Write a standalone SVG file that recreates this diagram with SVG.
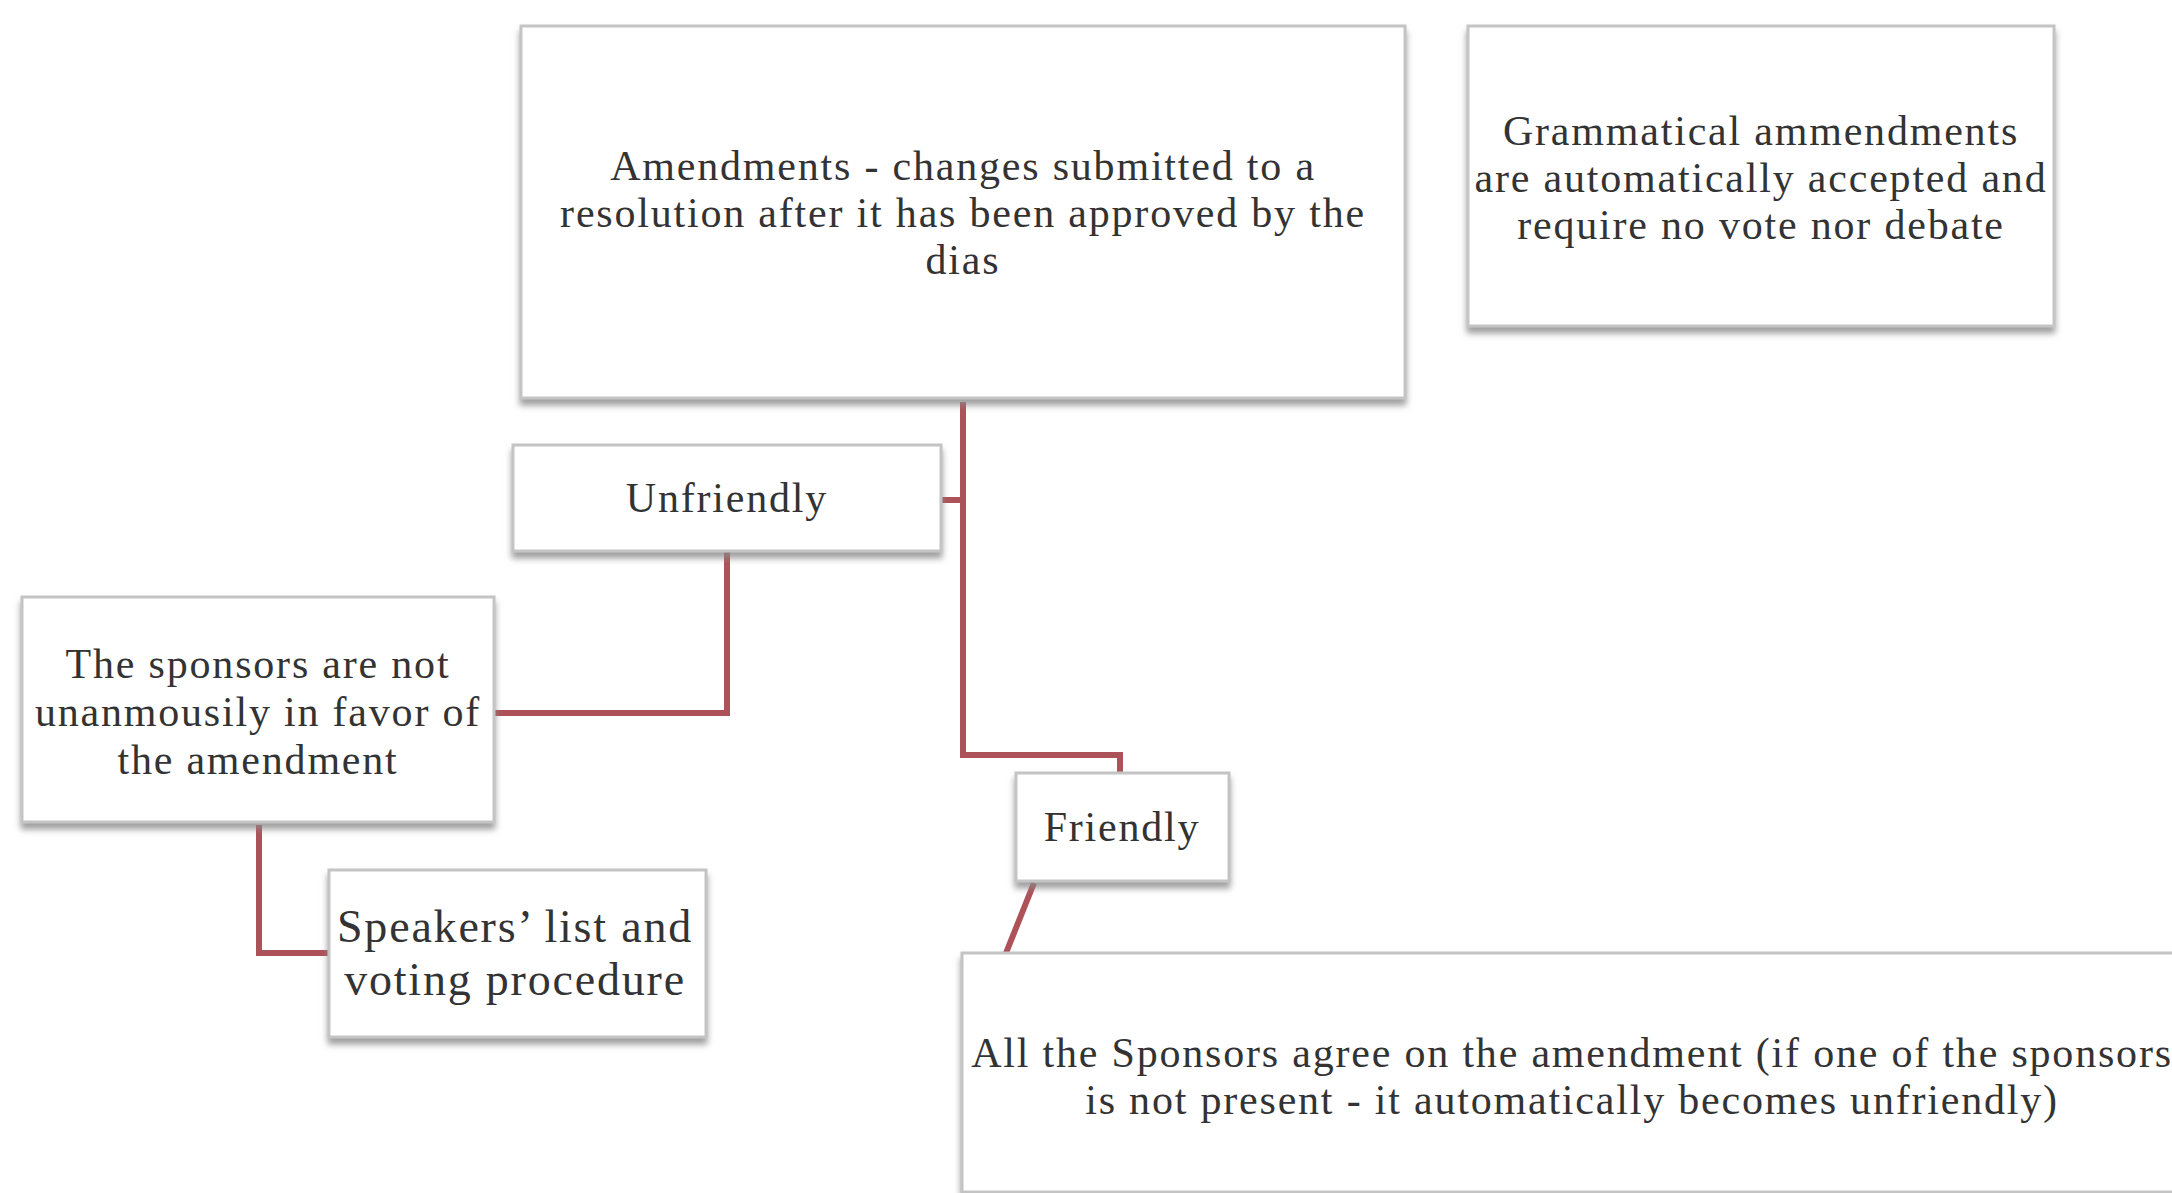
<svg xmlns="http://www.w3.org/2000/svg" width="2172" height="1193" viewBox="0 0 2172 1193">
<style>
.box{fill:#fff;stroke:#c4c4c4;stroke-width:3;filter:url(#sh)}
.t{font-family:"Liberation Serif","Times New Roman",serif;font-size:42px;letter-spacing:1.8px;fill:#333;text-anchor:middle}
.big{font-size:46px}
.c{fill:none;stroke:#ad5258;stroke-width:6;stroke-linejoin:miter}
</style>
<defs>
<filter id="sh" x="-5%" y="-5%" width="110%" height="120%">
<feDropShadow dx="0" dy="6" stdDeviation="3" flood-color="#888" flood-opacity="0.8"/>
</filter>
</defs>
<rect width="2172" height="1193" fill="#fff"/>
<g id="connectors">
<path class="c" d="M963,402 V500 H941"/>
<path class="c" d="M963,402 V755 H1120 V773"/>
<path class="c" d="M727,552 V713 H494"/>
<path class="c" d="M259,825 V953 H329"/>
<path class="c" d="M1034,883 L1006,953" stroke-width="4"/>
</g>
<g id="amendments">
<rect class="box" x="521" y="26" width="884" height="372"/>
<text class="t" x="963" y="180">Amendments - changes submitted to a</text>
<text class="t" x="963" y="227">resolution after it has been approved by the</text>
<text class="t" x="963" y="274">dias</text>
</g>
<g id="grammatical">
<rect class="box" x="1468" y="26" width="586" height="300"/>
<text class="t" x="1761" y="145">Grammatical ammendments</text>
<text class="t" x="1761" y="192">are automatically accepted  and</text>
<text class="t" x="1761" y="239">require no vote nor debate</text>
</g>
<g id="unfriendly">
<rect class="box" x="513" y="445" width="428" height="106"/>
<text class="t" x="727" y="512">Unfriendly</text>
</g>
<g id="sponsors-not">
<rect class="box" x="22" y="597" width="472" height="225"/>
<text class="t" x="258" y="678">The sponsors are not</text>
<text class="t" x="258" y="726">unanmousily in favor of</text>
<text class="t" x="258" y="774">the amendment</text>
</g>
<g id="speakers">
<rect class="box" x="329" y="870" width="377" height="167"/>
<text class="t big" x="515" y="942">Speakers’ list and</text>
<text class="t big" x="515" y="995">voting procedure</text>
</g>
<g id="friendly">
<rect class="box" x="1016" y="773" width="213" height="108"/>
<text class="t" x="1122" y="841">Friendly</text>
</g>
<g id="sponsors-agree">
<rect class="box" x="962" y="953" width="1240" height="239"/>
<text class="t" x="1572" y="1067">All the Sponsors agree on the amendment (if one of the sponsors</text>
<text class="t" x="1572" y="1114">is not present - it automatically becomes  unfriendly)</text>
</g>
</svg>
